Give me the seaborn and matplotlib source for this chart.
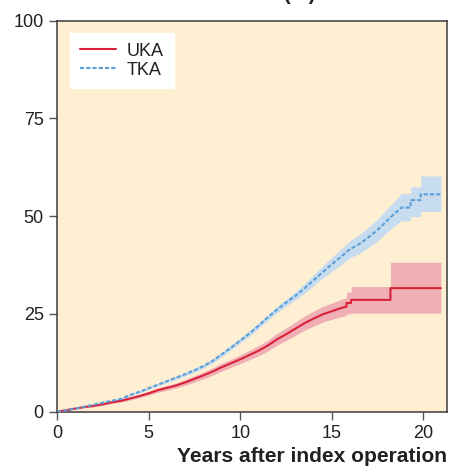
import matplotlib
matplotlib.use("Agg")
import matplotlib.pyplot as plt
import pandas as pd
import seaborn as sns

# Cumulative revision (%) after UKA, with 95% confidence limits
uka_years = [0, 0.5, 1, 1.5, 2, 2.5, 3, 3.5, 4, 4.5, 5, 5.5, 6, 6.5, 7, 7.5, 8, 8.5,
             9, 9.5, 10, 10.5, 11, 11.5, 12, 12.5, 13, 13.5, 14, 14.5, 15, 15.5,
             15.8, 15.8, 16.05, 16.05, 18.2, 18.2, 20.95]
uka_rev = [0, 0.4, 0.8, 1.2, 1.5, 1.9, 2.4, 2.8, 3.4, 4.0, 4.7, 5.5, 6.1, 6.7, 7.5, 8.4,
           9.3, 10.3, 11.4, 12.4, 13.4, 14.5, 15.6, 16.9, 18.5, 19.8, 21.2, 22.6, 23.8,
           24.9, 25.7, 26.5, 26.9, 27.8, 27.8, 28.6, 28.6, 31.6, 31.6]
uka_lo = [0, 0.3, 0.65, 1.0, 1.25, 1.6, 2.1, 2.45, 3.0, 3.55, 4.2, 4.95, 5.5, 6.05, 6.8,
          7.6, 8.4, 9.35, 10.4, 11.35, 12.3, 13.3, 14.3, 15.5, 17.0, 18.2, 19.5, 20.8,
          21.9, 22.9, 23.6, 24.3, 24.6, 25.0, 25.0, 25.2, 25.2, 25.2, 25.2]
uka_hi = [0, 0.5, 0.95, 1.4, 1.75, 2.2, 2.7, 3.15, 3.8, 4.45, 5.2, 6.05, 6.7, 7.35, 8.2,
          9.2, 10.2, 11.25, 12.4, 13.45, 14.5, 15.7, 16.9, 18.3, 20.0, 21.4, 22.9, 24.4,
          25.7, 26.9, 27.8, 28.7, 29.2, 30.6, 30.6, 32.0, 32.0, 38.2, 38.2]

# Cumulative revision (%) after TKA, with 95% confidence limits
tka_years = [0, 0.5, 1, 1.5, 2, 2.5, 3, 3.5, 4, 4.5, 5, 5.5, 6, 6.5, 7, 7.5, 8, 8.5,
             9, 9.5, 10, 10.5, 11, 11.5, 12, 12.5, 13, 13.5, 14, 14.5, 15, 15.5, 16,
             16.5, 17, 17.5, 18, 18.5, 18.8, 19.3, 19.3, 19.85, 19.85, 20.95]
tka_rev = [0, 0.4, 0.8, 1.3, 1.8, 2.3, 2.8, 3.3, 4.3, 5.1, 6.0, 6.9, 7.8, 8.7, 9.6, 10.6,
           11.7, 13.0, 14.7, 16.4, 18.2, 20.0, 22.0, 24.1, 26.1, 27.9, 29.6, 31.5, 33.6,
           35.7, 37.7, 39.6, 41.6, 42.9, 44.6, 46.5, 48.8, 51.0, 52.2, 52.2, 54.1, 54.1,
           55.6, 55.6]
tka_lo = [0, 0.3, 0.65, 1.15, 1.6, 2.1, 2.6, 3.1, 4.05, 4.85, 5.7, 6.6, 7.45, 8.3, 9.15,
          10.1, 11.2, 12.45, 14.1, 15.8, 17.6, 19.3, 21.3, 23.4, 25.3, 27.0, 28.6, 30.3,
          32.2, 34.1, 35.9, 37.6, 39.4, 40.5, 42.0, 43.7, 45.8, 47.8, 48.8, 48.8, 49.9,
          49.9, 51.2, 51.2]
tka_hi = [0, 0.5, 0.95, 1.45, 2.0, 2.5, 3.0, 3.5, 4.55, 5.35, 6.3, 7.2, 8.15, 9.1, 10.05,
          11.1, 12.2, 13.55, 15.3, 17.0, 18.8, 20.7, 22.7, 24.8, 26.9, 28.8, 30.6, 32.7,
          35.0, 37.3, 39.5, 41.6, 43.8, 45.3, 47.2, 49.3, 51.8, 54.2, 55.8, 55.8, 57.5,
          57.5, 60.3, 60.3]

x_ticks = [0, 5, 10, 15, 20]
y_ticks = [0, 25, 50, 75, 100]

sns.set_theme(style="ticks")
plt.rcParams["font.family"] = ["Liberation Sans", "DejaVu Sans"]

uka = pd.DataFrame({"years": uka_years, "rev": uka_rev, "lo": uka_lo, "hi": uka_hi})
tka = pd.DataFrame({"years": tka_years, "rev": tka_rev, "lo": tka_lo, "hi": tka_hi})

red, red_band = "#d9223a", "#efafb5"
blue, blue_band = "#5b9fd6", "#c7dcef"
ink = "#231f20"

fig = plt.figure(figsize=(4.49, 4.69), dpi=100)
ax = fig.add_axes([57 / 449, 1 - 411.7 / 469, 389.7 / 449, 391 / 469])
ax.set_facecolor("#feefd3")

ax.fill_between(uka["years"], uka["lo"], uka["hi"], color=red_band, lw=0, zorder=1)
ax.fill_between(tka["years"], tka["lo"], tka["hi"], color=blue_band, lw=0, zorder=1)

sns.lineplot(data=uka, x="years", y="rev", estimator=None, sort=False, ax=ax,
             color=red, lw=1.5, label="UKA", zorder=3)
sns.lineplot(data=tka, x="years", y="rev", estimator=None, sort=False, ax=ax,
             color=blue, lw=1.5, dashes=False, linestyle=(0, (2, 1)), label="TKA",
             zorder=3)

ax.set_xlim(0, 21.27)
ax.set_ylim(0, 100)
ax.set_xticks(x_ticks)
ax.set_yticks(y_ticks)
ax.tick_params(axis="both", direction="out", length=6, width=1.0, color="#555555",
               labelsize=13, labelcolor=ink, pad=3.5)
for side in ["left", "bottom", "top", "right"]:
    ax.spines[side].set_visible(True)
    ax.spines[side].set_color("#3a3a3a")
    ax.spines[side].set_linewidth(1.1)

ax.set_ylabel("")
ax.set_xlabel("Years after index operation", fontsize=15.1, fontweight="bold",
              color=ink, loc="right", labelpad=4)

leg = ax.legend(loc="upper left", bbox_to_anchor=(0.033, 0.969), borderaxespad=0,
                frameon=True, fancybox=False, facecolor="white", edgecolor="white",
                framealpha=1, fontsize=13, handlelength=2.0, handletextpad=0.6,
                borderpad=0.55, labelspacing=0.1)
for t in leg.get_texts():
    t.set_color(ink)

fig.text(40 / 449, 1.0, "Cumulative revision rate (%) in the full study",
         fontsize=14.8, fontweight="bold", color=ink, ha="left", va="baseline")

fig.savefig("out.png", dpi=100, facecolor="white")
